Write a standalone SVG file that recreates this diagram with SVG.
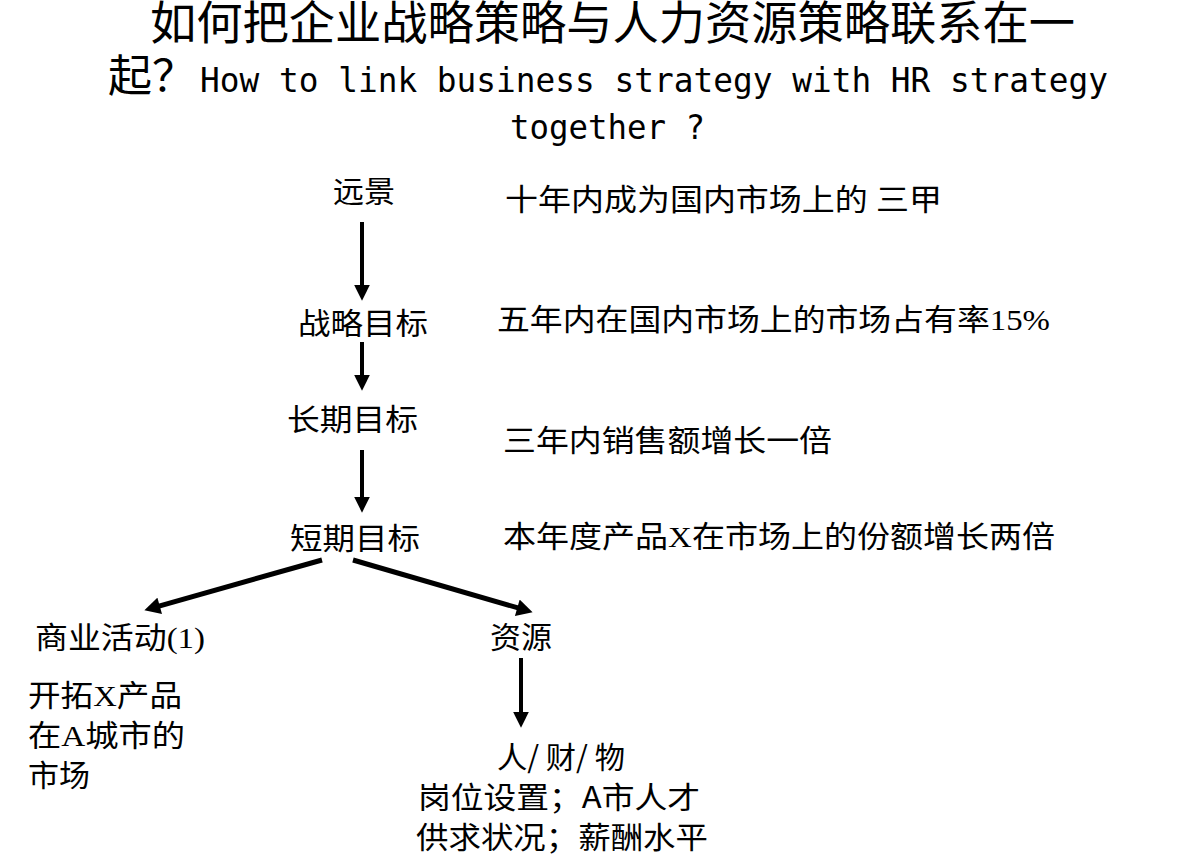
<svg xmlns="http://www.w3.org/2000/svg" width="1199" height="860" viewBox="0 0 1199 860">
<style>
.t{font-family:"Liberation Serif","Noto Sans CJK SC",serif;font-size:30px;fill:#000}
.cjk{font-family:"Noto Sans CJK SC",sans-serif;font-size:30px;fill:#000}
.title{font-family:"Noto Sans CJK SC",sans-serif;fill:#000}
.lat{font-family:"DejaVu Sans Mono",monospace;font-size:33px;fill:#000}
.c{stroke:#000;fill:none}
.v{stroke-width:4;marker-end:url(#ah)}
.d{stroke-width:5;marker-end:url(#ah2)}
</style>
<defs>
<marker id="ah" markerUnits="userSpaceOnUse" markerWidth="16" markerHeight="16" viewBox="0 0 15 15" refX="5" refY="7.5" orient="auto">
<path d="M0,0 L15,7.5 L0,15 z" fill="#000"/>
</marker>
<marker id="ah2" markerUnits="userSpaceOnUse" markerWidth="17" markerHeight="17" viewBox="0 0 15 16" refX="5" refY="8" orient="auto">
<path d="M0,0 L15,8 L0,16 z" fill="#000"/>
</marker>
</defs>
<rect width="1199" height="860" fill="#fff"/>
<g id="title">
<text class="title" x="150" y="39" font-size="46" textLength="925" lengthAdjust="spacingAndGlyphs">如何把企业战略策略与人力资源策略联系在一</text>
<text class="title" x="108" y="92" font-size="44">起？</text>
<text class="lat" x="200" y="92" textLength="908" lengthAdjust="spacingAndGlyphs">How to link business strategy with HR strategy</text>
<text class="lat" x="510" y="139" textLength="195" lengthAdjust="spacingAndGlyphs">together ?</text>
</g>
<g id="connectors">
<line class="c v" x1="362" y1="222" x2="362" y2="290"/>
<line class="c v" x1="362" y1="342" x2="362" y2="380"/>
<line class="c v" x1="362" y1="450" x2="362" y2="502"/>
<line class="c v" x1="521" y1="658" x2="521" y2="717"/>
<line class="c d" x1="322" y1="560" x2="154.6" y2="607.3"/>
<line class="c d" x1="353" y1="560" x2="522.4" y2="609.2"/>
</g>
<g id="node-vision">
<text class="t" x="333" y="202" textLength="62" lengthAdjust="spacingAndGlyphs">远景</text>
<text class="t" x="505" y="210" textLength="437" lengthAdjust="spacingAndGlyphs">十年内成为国内市场上的 三甲</text>
</g>
<g id="node-strategic-goal">
<text class="t" x="298" y="334" textLength="130" lengthAdjust="spacingAndGlyphs">战略目标</text>
<text class="t" x="497" y="330" textLength="553" lengthAdjust="spacingAndGlyphs">五年内在国内市场上的市场占有率15%</text>
</g>
<g id="node-long-term">
<text class="t" x="287" y="430" textLength="131" lengthAdjust="spacingAndGlyphs">长期目标</text>
<text class="t" x="503" y="451" textLength="329" lengthAdjust="spacingAndGlyphs">三年内销售额增长一倍</text>
</g>
<g id="node-short-term">
<text class="t" x="290" y="549" textLength="130" lengthAdjust="spacingAndGlyphs">短期目标</text>
<text class="t" x="503" y="547" textLength="552" lengthAdjust="spacingAndGlyphs">本年度产品X在市场上的份额增长两倍</text>
</g>
<g id="node-business">
<text class="t" x="35" y="648" textLength="170" lengthAdjust="spacingAndGlyphs">商业活动(1)</text>
<text class="t" x="28" y="706" textLength="154" lengthAdjust="spacingAndGlyphs">开拓X产品</text>
<text class="t" x="28" y="746" textLength="157" lengthAdjust="spacingAndGlyphs">在A城市的</text>
<text class="t" x="28" y="786" textLength="62" lengthAdjust="spacingAndGlyphs">市场</text>
</g>
<g id="node-resources">
<text class="t" x="490" y="648" textLength="62" lengthAdjust="spacingAndGlyphs">资源</text>
<text class="cjk" x="497" y="768" textLength="128" lengthAdjust="spacingAndGlyphs">人/ 财/ 物</text>
<text class="cjk" x="418" y="808" textLength="282" lengthAdjust="spacingAndGlyphs">岗位设置；A市人才</text>
<text class="cjk" x="416" y="848" textLength="292" lengthAdjust="spacingAndGlyphs">供求状况；薪酬水平</text>
</g>
</svg>
